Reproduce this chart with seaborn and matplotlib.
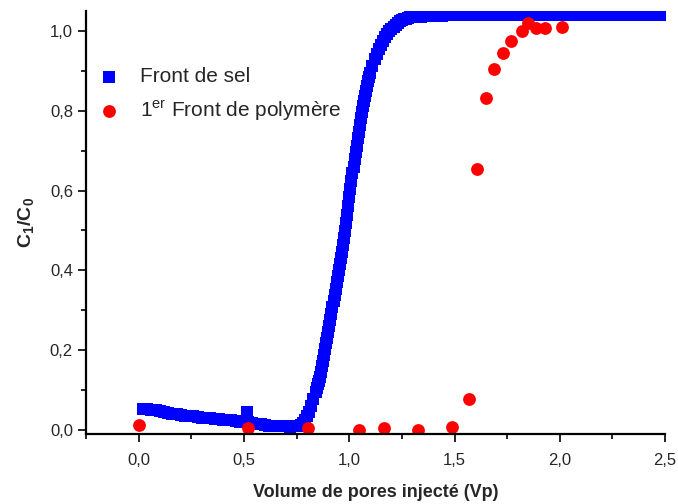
import numpy as np
import pandas as pd
import matplotlib
matplotlib.use('Agg')
import matplotlib.pyplot as plt
from matplotlib.ticker import MultipleLocator, FuncFormatter
import seaborn as sns

# Front de sel
sel_x = [0.02, 0.04, 0.06, 0.08, 0.10, 0.12, 0.14, 0.16, 0.18, 0.20,
         0.22, 0.24, 0.26, 0.28, 0.30, 0.32, 0.34, 0.36, 0.38, 0.40,
         0.42, 0.44, 0.46, 0.48, 0.50, 0.516, 0.52, 0.54, 0.56, 0.58,
         0.60, 0.62, 0.64, 0.66, 0.68, 0.70, 0.72, 0.74, 0.76,
         0.77, 0.78, 0.79, 0.80, 0.81, 0.82, 0.83, 0.84, 0.85, 0.86,
         0.87, 0.88, 0.89, 0.90, 0.91, 0.92, 0.93, 0.94, 0.95, 0.96,
         0.97, 0.98, 0.99, 1.00, 1.01, 1.02, 1.03, 1.04, 1.05, 1.06,
         1.07, 1.08, 1.09, 1.10, 1.11, 1.12, 1.13, 1.14, 1.15, 1.16,
         1.17, 1.18, 1.19, 1.20, 1.21, 1.22, 1.23, 1.24, 1.25, 1.26,
         1.27, 1.28, 1.29, 1.30,
         1.32, 1.34, 1.36, 1.38, 1.40, 1.42, 1.44, 1.46, 1.48, 1.50,
         1.52, 1.54, 1.56, 1.58, 1.60, 1.62, 1.64, 1.66, 1.68, 1.70,
         1.72, 1.74, 1.76, 1.78, 1.80, 1.82, 1.84, 1.86, 1.88, 1.90,
         1.92, 1.94, 1.96, 1.98, 2.00, 2.02, 2.04, 2.06, 2.08, 2.10,
         2.12, 2.14, 2.16, 2.18, 2.20, 2.22, 2.24, 2.26, 2.28, 2.30,
         2.32, 2.34, 2.36, 2.38, 2.40, 2.42, 2.44, 2.46, 2.48, 2.50]
sel_y = [0.053, 0.052, 0.051, 0.049, 0.047, 0.045, 0.043, 0.041, 0.039, 0.037,
         0.036, 0.035, 0.034, 0.033, 0.031, 0.030, 0.029, 0.028, 0.027, 0.026,
         0.025, 0.024, 0.022, 0.021, 0.020, 0.046, 0.019, 0.017, 0.015, 0.014,
         0.012, 0.011, 0.010, 0.010, 0.011, 0.009, 0.008, 0.009, 0.010,
         0.012, 0.017, 0.025, 0.035, 0.046, 0.060, 0.078, 0.096, 0.114, 0.133,
         0.160, 0.188, 0.217, 0.246, 0.276, 0.307, 0.339, 0.370, 0.401, 0.432,
         0.463, 0.498, 0.540, 0.583, 0.625, 0.660, 0.696, 0.731, 0.765, 0.797,
         0.824, 0.850, 0.875, 0.895, 0.913, 0.929, 0.943, 0.955, 0.966, 0.976,
         0.985, 0.993, 0.999, 1.005, 1.011, 1.016, 1.020, 1.024, 1.027, 1.029,
         1.031, 1.033, 1.034, 1.035,
         1.036, 1.036, 1.037, 1.037, 1.038, 1.038, 1.038, 1.039, 1.039, 1.039,
         1.040, 1.039, 1.040, 1.040, 1.039, 1.040, 1.040, 1.041, 1.040, 1.040,
         1.039, 1.040, 1.040, 1.041, 1.040, 1.040, 1.039, 1.040, 1.040, 1.041,
         1.040, 1.040, 1.039, 1.040, 1.040, 1.041, 1.040, 1.040, 1.040, 1.039,
         1.040, 1.040, 1.041, 1.040, 1.040, 1.040, 1.039, 1.040, 1.041, 1.040,
         1.040, 1.040, 1.040, 1.041, 1.040, 1.040, 1.040, 1.041, 1.040, 1.040]

# extra samples on the steep part of the salt front
sel_x_fine = [0.845, 0.855, 0.865, 0.875, 0.885, 0.895, 0.905, 0.915, 0.925,
              0.935, 0.945, 0.955, 0.965, 0.975, 0.985, 0.995, 1.005, 1.015,
              1.025, 1.035, 1.045, 1.055, 1.065, 1.075, 1.085, 1.095]
sel_y_fine = [0.105, 0.123, 0.146, 0.174, 0.202, 0.231, 0.261, 0.291, 0.323,
              0.354, 0.385, 0.416, 0.447, 0.480, 0.519, 0.561, 0.604, 0.643,
              0.678, 0.713, 0.748, 0.781, 0.811, 0.837, 0.863, 0.885]

# 1er front de polymere
poly_x = [0.00, 0.518, 0.806, 1.048, 1.167, 1.327, 1.489, 1.568, 1.607, 1.647,
          1.688, 1.728, 1.767, 1.818, 1.847, 1.886, 1.929, 2.008]
poly_y = [0.012, 0.004, 0.004, 0.001, 0.004, 0.001, 0.0075, 0.078, 0.654, 0.831,
          0.904, 0.945, 0.974, 1.000, 1.019, 1.008, 1.008, 1.010]

sns.set_style('ticks')
plt.rcParams['font.family'] = ['Liberation Sans', 'DejaVu Sans']
plt.rcParams['mathtext.fontset'] = 'custom'
plt.rcParams['mathtext.rm'] = 'Liberation Sans'
plt.rcParams['mathtext.it'] = 'Liberation Sans:italic'
plt.rcParams['mathtext.bf'] = 'Liberation Sans:bold'

df_sel = pd.DataFrame({'x': sel_x + sel_x_fine, 'y': sel_y + sel_y_fine})
df_poly = pd.DataFrame({'x': poly_x, 'y': poly_y})

fig = plt.figure(figsize=(6.78, 5.04), dpi=100)
ax = fig.add_axes([0.127, 0.139, 0.854, 0.839])

sns.scatterplot(data=df_sel, x='x', y='y', ax=ax, marker='s', s=70,
                color='#0000ff', linewidth=0, label='Front de sel')
sns.scatterplot(data=df_poly, x='x', y='y', ax=ax, marker='o', s=85,
                color='#ff0000', linewidth=0,
                label=r'1$^{\mathrm{er}}$ Front de polymère')

ax.set_xlim(-0.25, 2.5)
ax.set_ylim(-0.01, 1.05)
ax.xaxis.set_major_locator(MultipleLocator(0.5))
ax.xaxis.set_minor_locator(MultipleLocator(0.25))
ax.yaxis.set_major_locator(MultipleLocator(0.2))
ax.yaxis.set_minor_locator(MultipleLocator(0.1))
comma = FuncFormatter(lambda v, p: f'{v:.1f}'.replace('.', ','))
ax.xaxis.set_major_formatter(comma)
ax.yaxis.set_major_formatter(comma)

ax.tick_params(which='major', length=6, width=1.2, labelsize=12, color='black')
ax.tick_params(axis='x', which='major', pad=8)
ax.tick_params(which='minor', length=3.5, width=1.2, color='black')
for side in ['top', 'right']:
    ax.spines[side].set_visible(False)
for side in ['left', 'bottom']:
    ax.spines[side].set_linewidth(1.6)
    ax.spines[side].set_color('black')

ax.set_xlabel('Volume de pores injecté (Vp)', fontsize=13, fontweight='bold',
              labelpad=11)
ax.set_ylabel(r'$\mathbf{C_1/C_0}$', fontsize=14, labelpad=10)

ax.legend(loc='upper left', bbox_to_anchor=(-0.01, 0.887), frameon=False,
          fontsize=15, handletextpad=0.45, labelspacing=0.6, borderaxespad=0)

fig.savefig('out.png', dpi=100)
